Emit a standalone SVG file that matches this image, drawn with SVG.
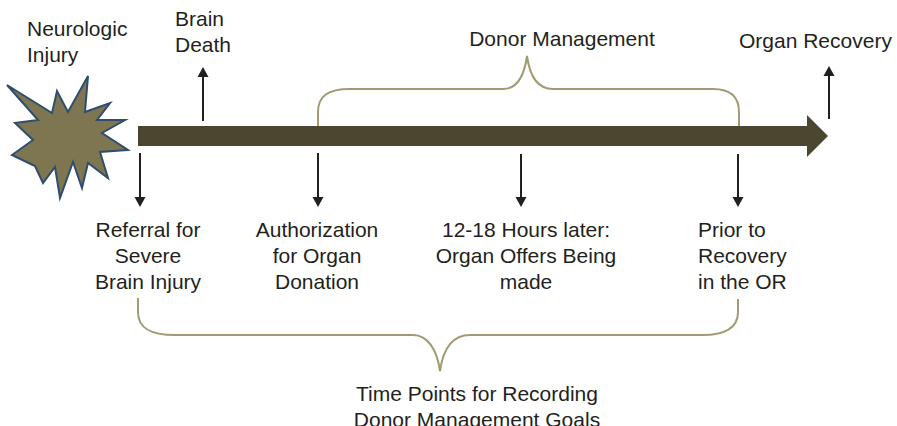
<svg xmlns="http://www.w3.org/2000/svg" width="897" height="426" viewBox="0 0 897 426">
<style>
  text { font-family: "Liberation Sans", Arial, sans-serif; font-size: 21px; fill: #231f20; }
  .mid { text-anchor: middle; }
  .brace { fill: none; stroke: #a19b73; stroke-width: 2; }
  .arr { stroke: #231f20; stroke-width: 2; fill: none; }
  .head { fill: #231f20; }
</style>
<rect width="897" height="426" fill="#ffffff"/>

<g id="injury-star">
  <polygon points="7,85 52,113 57,91 68,112 88,76 85,112 110,103 97,120 125,120 102,133 128,150 100,152 108,178 88,163 82,188 73,162 60,198 55,167 43,183 35,166 12,155 33,140 15,123 38,120" fill="#7d7650" stroke="#2f4d6e" stroke-width="2" stroke-linejoin="miter"/>
  <text x="27" y="36">Neurologic</text>
  <text x="27" y="62">Injury</text>
</g>

<g id="timeline">
  <rect x="138" y="126" width="670" height="20" fill="#4a4630"/>
  <polygon points="807,115 828,136 807,157" fill="#4a4630"/>
</g>

<g id="connectors">
  <line class="arr" x1="203" y1="121" x2="203" y2="76"/>
  <polygon class="head" points="197.5,77 208.5,77 203,67"/>
  <line class="arr" x1="829" y1="119" x2="829" y2="75"/>
  <polygon class="head" points="823.5,76 834.5,76 829,66"/>
  <line class="arr" x1="140" y1="153" x2="140" y2="198"/>
  <polygon class="head" points="134.5,197 145.5,197 140,207"/>
  <line class="arr" x1="318" y1="153" x2="318" y2="198"/>
  <polygon class="head" points="312.5,197 323.5,197 318,207"/>
  <line class="arr" x1="521" y1="154" x2="521" y2="198"/>
  <polygon class="head" points="515.5,197 526.5,197 521,207"/>
  <line class="arr" x1="738" y1="154" x2="738" y2="198"/>
  <polygon class="head" points="732.5,197 743.5,197 738,207"/>
</g>

<g id="brace-donor-management">
  <path class="brace" d="M318,126 V112 C318,96 328,89 350,89 H503 C516,89 524,78 527,56 C530,78 538,89 553,89 H713 C730,89 739,96 739,112 V126"/>
  <text class="mid" x="562" y="46">Donor Management</text>
</g>

<g id="brace-time-points">
  <path class="brace" d="M138,298 V312 C138,328 150,335 175,335 H413 C428,335 437,350 440,371 C443,350 452,335 470,335 H702 C726,335 738,328 738,312 V299"/>
  <text class="mid" x="477" y="401">Time Points for Recording</text>
  <text class="mid" x="477" y="427">Donor Management Goals</text>
</g>

<g id="brain-death">
  <text x="175" y="26">Brain</text>
  <text x="175" y="52">Death</text>
</g>

<g id="organ-recovery">
  <text x="739" y="48">Organ Recovery</text>
</g>

<g id="referral">
  <text class="mid" x="148" y="237">Referral for</text>
  <text class="mid" x="148" y="263">Severe</text>
  <text class="mid" x="148" y="289">Brain Injury</text>
</g>

<g id="authorization">
  <text class="mid" x="317" y="237">Authorization</text>
  <text class="mid" x="317" y="263">for Organ</text>
  <text class="mid" x="317" y="289">Donation</text>
</g>

<g id="organ-offers">
  <text class="mid" x="526" y="237">12-18 Hours later:</text>
  <text class="mid" x="526" y="263">Organ Offers Being</text>
  <text class="mid" x="526" y="289">made</text>
</g>

<g id="prior-to-recovery">
  <text x="698" y="237">Prior to</text>
  <text x="698" y="263">Recovery</text>
  <text x="698" y="289">in the OR</text>
</g>
</svg>
